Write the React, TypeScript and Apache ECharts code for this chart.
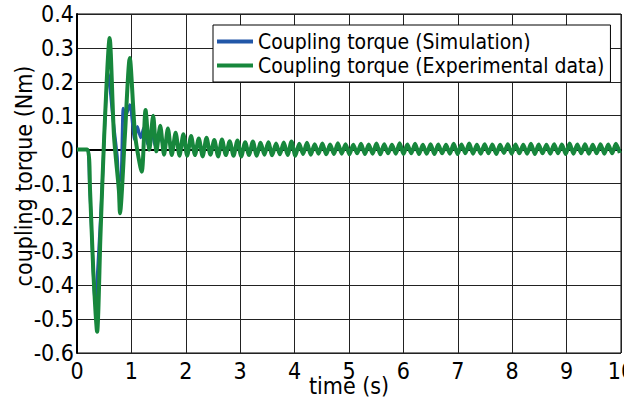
import React, { useEffect, useRef } from "react";
import * as echarts from "echarts";

const SERIES_NAMES = ["Coupling torque (Simulation)", "Coupling torque (Experimental data)"];

// Simulation: transient (time s, torque Nm)
const SIM_T_EARLY = [0, 0.18, 0.23, 0.34, 0.37, 0.45, 0.575, 0.65, 0.74, 0.77, 0.81, 0.85, 0.89, 0.97, 1.06, 1.11, 1.17, 1.23, 1.3, 1.37, 1.44, 1.51];
const SIM_V_EARLY = [0, 0, -0.1, -0.458, -0.38, -0.15, 0.225, 0.108, -0.02, -0.094, -0.085, 0.122, 0.097, 0.132, 0.029, 0.068, 0.035, 0.065, 0.015, 0.055, 0.01, 0.045];

// Experimental: transient (time s, torque Nm)
const EXP_T_EARLY = [0, 0.19, 0.24, 0.3, 0.37, 0.43, 0.5, 0.6, 0.68, 0.77, 0.79, 0.88, 0.97, 1.07, 1.19, 1.26, 1.33, 1.4, 1.46, 1.53];
const EXP_V_EARLY = [0, 0, -0.12, -0.36, -0.537, -0.26, 0.04, 0.329, 0.04, -0.12, -0.188, 0.04, 0.27, 0.04, -0.065, 0.117, 0.0, 0.1, -0.005, 0.07];

// Steady oscillation samples (half-period sampling) starting at STEADY_T0
const STEADY_T0 = 1.6;
const STEADY_STEP = 0.071;
const EXP_V_STEADY = [
  -0.015, 0.062, -0.016, 0.05, -0.018, 0.045, -0.018, 0.04, -0.016, 0.033,
  -0.02, 0.035, -0.015, 0.028, -0.02, 0.03, -0.016, 0.025, -0.018, 0.027,
  -0.02, 0.022, -0.016, 0.024, -0.018, 0.02, -0.015, 0.022, -0.017, 0.018,
  -0.014, 0.021, -0.016, 0.024, -0.018, 0.017, -0.013, 0.02, -0.015, 0.016,
  -0.012, 0.018, -0.014, 0.015, -0.013, 0.019, -0.012, 0.016, -0.014, 0.014,
  -0.011, 0.017, -0.013, 0.015, -0.012, 0.018, -0.014, 0.016, -0.011, 0.014,
  -0.012, 0.019, -0.013, 0.015, -0.011, 0.017, -0.013, 0.014, -0.012, 0.016,
  -0.013, 0.015, -0.011, 0.014, -0.012, 0.017, -0.013, 0.015, -0.011, 0.018,
  -0.012, 0.014, -0.012, 0.016, -0.011, 0.015, -0.013, 0.014, -0.01, 0.016,
  -0.012, 0.015, -0.011, 0.014, -0.012, 0.017, -0.013, 0.015, -0.011, 0.014,
  -0.012, 0.016, -0.011, 0.015, -0.013, 0.018, -0.012, 0.015, -0.011, 0.016,
  -0.012, 0.014, -0.011, 0.016, -0.012, 0.015, -0.011, 0.017, -0.01,
];
const SIM_V_STEADY = [
  0.01, 0.038, 0.008, 0.032, 0.004, 0.028, 0.002, 0.024, 0.0, 0.02,
  -0.002, 0.017, -0.003, 0.015, -0.004, 0.012, -0.004, 0.011, -0.005, 0.01,
  -0.005, 0.009, -0.005, 0.008, -0.005, 0.008, -0.004, 0.007, -0.005, 0.007,
  -0.004, 0.006, -0.005, 0.007, -0.004, 0.006, -0.004, 0.006, -0.005, 0.006,
  -0.004, 0.005, -0.004, 0.006, -0.004, 0.005, -0.005, 0.006, -0.004, 0.005,
  -0.004, 0.006, -0.004, 0.005, -0.004, 0.006, -0.005, 0.005, -0.004, 0.005,
  -0.004, 0.006, -0.004, 0.005, -0.004, 0.005, -0.005, 0.006, -0.004, 0.005,
  -0.004, 0.005, -0.004, 0.006, -0.004, 0.005, -0.004, 0.005, -0.005, 0.006,
  -0.004, 0.005, -0.004, 0.005, -0.004, 0.006, -0.004, 0.005, -0.004, 0.005,
  -0.004, 0.006, -0.005, 0.005, -0.004, 0.005, -0.004, 0.006, -0.004, 0.005,
  -0.004, 0.005, -0.004, 0.006, -0.004, 0.005, -0.005, 0.005, -0.004, 0.006,
  -0.004, 0.005, -0.004, 0.005, -0.004, 0.006, -0.004, 0.005, -0.004,
];

const X_MIN = 0, X_MAX = 10, X_INTERVAL = 1;
const Y_MIN = -0.6, Y_MAX = 0.4, Y_INTERVAL = 0.1;

const FONT = "'DejaVu Sans Condensed', 'DejaVu Sans', sans-serif";

function buildPairs(tEarly: number[], vEarly: number[], vSteady: number[]) {
  const out: [number, number][] = tEarly.map((t, i) => [t, vEarly[i]]);
  vSteady.forEach((v, i) => {
    out.push([+(STEADY_T0 + i * STEADY_STEP).toFixed(4), v]);
  });
  return out;
}

export default function App() {
  const ref = useRef<HTMLDivElement>(null);
  useEffect(() => {
    if (!ref.current) return;
    const chart = echarts.init(ref.current, null, { renderer: "svg" });
    chart.setOption({
      animation: false,
      backgroundColor: "#ffffff",
      grid: {
        left: 77,
        right: 3,
        top: 14,
        bottom: 49,
        containLabel: false,
        outerBoundsMode: "none",
        show: true,
        borderColor: "#000",
        borderWidth: 1,
      },
      legend: {
        data: SERIES_NAMES,
        orient: "vertical",
        left: 213,
        top: 25,
        icon: "rect",
        itemWidth: 36,
        itemHeight: 4,
        itemGap: 3,
        padding: [6, 6, 6, 4],
        borderColor: "#000",
        borderWidth: 1,
        backgroundColor: "#fff",
        textStyle: { fontFamily: FONT, fontSize: 21, color: "#000" },
      },
      xAxis: {
        type: "value",
        min: X_MIN,
        max: X_MAX,
        interval: X_INTERVAL,
        name: "time (s)",
        nameLocation: "middle",
        nameGap: 21,
        nameMoveOverlap: false,
        nameTextStyle: { fontFamily: FONT, fontSize: 23, color: "#000" },
        axisLine: { show: true, lineStyle: { color: "#000", width: 2 } },
        axisTick: { show: false },
        axisLabel: { fontFamily: FONT, fontSize: 23, color: "#000", margin: 6 },
        splitLine: { show: true, lineStyle: { color: "#222", width: 1 } },
      },
      yAxis: {
        type: "value",
        min: Y_MIN,
        max: Y_MAX,
        interval: Y_INTERVAL,
        name: "coupling torque (Nm)",
        nameLocation: "middle",
        nameGap: 42,
        nameMoveOverlap: false,
        nameTextStyle: { fontFamily: FONT, fontSize: 23, color: "#000", padding: [0, 0, 0, 15] },
        axisLine: { show: true, lineStyle: { color: "#000", width: 2 } },
        axisTick: { show: false },
        axisLabel: {
          fontFamily: FONT,
          fontSize: 23,
          color: "#000",
          margin: 3,
          formatter: (v: number) => String(Math.round(v * 10) / 10),
        },
        splitLine: { show: true, lineStyle: { color: "#222", width: 1 } },
      },
      series: [
        {
          name: SERIES_NAMES[0],
          type: "line",
          data: buildPairs(SIM_T_EARLY, SIM_V_EARLY, SIM_V_STEADY),
          showSymbol: false,
          symbol: "none",
          smooth: 0.25,
          lineStyle: { color: "#2257a8", width: 3 },
          itemStyle: { color: "#2257a8" },
          z: 2,
        },
        {
          name: SERIES_NAMES[1],
          type: "line",
          data: buildPairs(EXP_T_EARLY, EXP_V_EARLY, EXP_V_STEADY),
          showSymbol: false,
          symbol: "none",
          smooth: 0.25,
          lineStyle: { color: "#17873c", width: 4 },
          itemStyle: { color: "#17873c" },
          z: 3,
        },
      ],
    });
    return () => chart.dispose();
  }, []);
  return <div ref={ref} style={{ position: "fixed", left: 0, top: 0, width: 624, height: 402 }} />;
}
